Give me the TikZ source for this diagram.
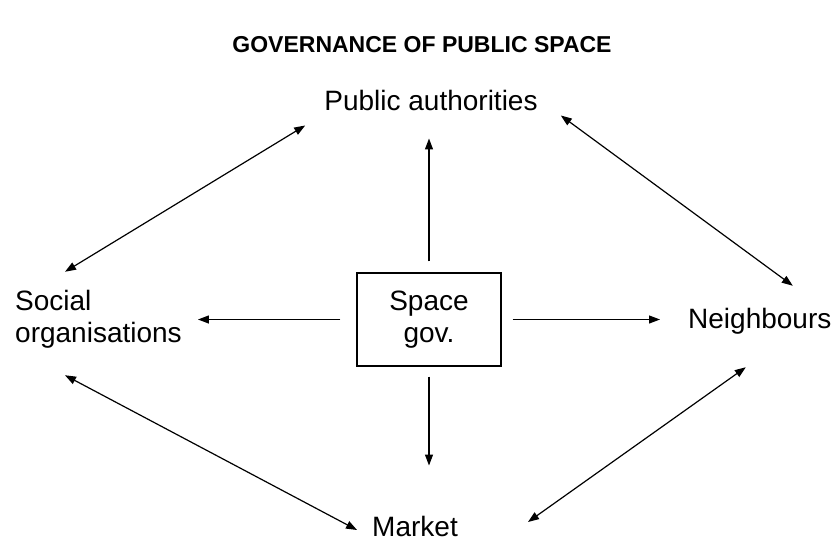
\documentclass[tikz,border=0pt]{standalone}
\usepackage{fontspec}
\setmainfont{Liberation Sans}
\usetikzlibrary{arrows.meta,positioning}
\tikzstyle{arrow} = [line width=1.2pt,-{Triangle[length=11pt,width=8pt]}]
\tikzstyle{dblarrow} = [line width=1.2pt,{Triangle[length=11pt,width=8pt]}-{Triangle[length=11pt,width=8pt]}]
\tikzstyle{actor} = [inner sep=0pt,font=\fontsize{28}{32}\selectfont]

\begin{document}
\begin{tikzpicture}[x=1pt,y=-1pt]
			\useasboundingbox (0,0) rectangle (838,549);
			\node[font=\bfseries\fontsize{23}{28}\selectfont] (title) at (422,45) {GOVERNANCE OF PUBLIC SPACE};
			\node[actor] (pa) at (431,100) {Public authorities};
			\node[actor, anchor=west, align=left] (soc) at (15,319) {Social\\organisations};
			\node[actor, anchor=west] (nb) at (688,321) {Neighbours};
			\node[actor] (mk) at (415,526) {Market};
			\node[draw, line width=1.2pt, minimum width=144pt, minimum height=93pt, align=center,
				font=\fontsize{28}{32}\selectfont] (sg) at (429,319.5) {Space\\gov.};
			% from the centre box outwards
			\draw[arrow, shorten >=28pt] ([yshift=11pt]sg.north) -- (sg.north |- pa.south);
			\draw[arrow, shorten >=50pt] ([yshift=-10pt]sg.south) -- (sg.south |- mk.north);
			\draw[arrow, shorten >=16pt] ([xshift=-16pt]sg.west) -- (sg.west -| soc.east);
			\draw[arrow, shorten >=28pt] ([xshift=11pt]sg.east) -- (sg.east -| nb.west);
			% round the outside
			\draw[dblarrow] ([xshift=-19pt,yshift=-15pt]pa.south west) -- ([xshift=50pt,yshift=18pt]soc.north west);
			\draw[dblarrow] ([xshift=23pt,yshift=-5pt]pa.south east) -- ([xshift=33pt,yshift=22pt]nb.north);
			\draw[dblarrow] ([xshift=50pt,yshift=-27pt]soc.south west) -- ([xshift=-15pt,yshift=-4pt]mk.west);
			\draw[dblarrow] ([xshift=70pt,yshift=4pt]mk.east) -- ([xshift=-14pt,yshift=-33pt]nb.south);
		\end{tikzpicture}
\end{document}
